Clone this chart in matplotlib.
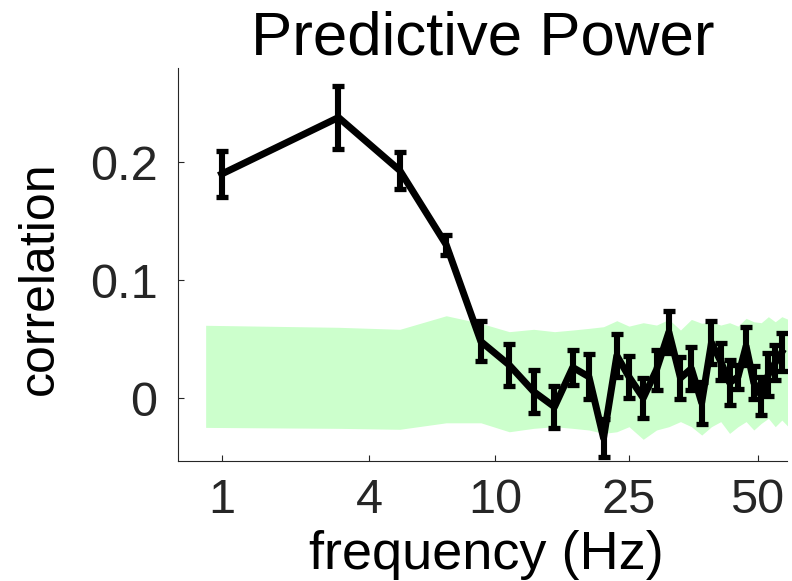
import numpy as np
import matplotlib
matplotlib.use("Agg")
import matplotlib.pyplot as plt

# ---- data ---------------------------------------------------------------
freq_hz = [1, 3, 5, 7, 9, 11, 13, 15, 17, 19, 21, 23, 25, 27, 29,
           31, 33, 35, 37, 39, 41, 43, 45, 47, 49, 51, 53, 55, 57]
corr = [0.190, 0.238, 0.193, 0.130, 0.048, 0.028, 0.0055, -0.0075, 0.026,
        0.018, -0.034, 0.036, 0.018, 0.000, 0.024, 0.056, 0.017, 0.025,
        -0.004, 0.047, 0.031, 0.013, 0.018, 0.044, 0.013, 0.002, 0.020,
        0.030, 0.039]
corr_sem = [0.0195, 0.027, 0.016, 0.0085, 0.017, 0.018, 0.018, 0.018, 0.015,
            0.019, 0.016, 0.018, 0.018, 0.017, 0.017, 0.018, 0.018, 0.018,
            0.018, 0.018, 0.016, 0.019, 0.010, 0.016, 0.014, 0.016, 0.018,
            0.015, 0.016]

# shuffled-control range
band_hz = [0.86, 1, 3, 5, 7, 9, 11, 13, 15, 17, 19, 21, 23, 25, 27, 29,
           31, 33, 35, 37, 39, 41, 43, 45, 47, 49, 51, 53, 55, 57, 59]
band_hi = [0.0617, 0.0615, 0.0600, 0.0583, 0.0698, 0.0634, 0.0563, 0.0583,
           0.0563, 0.0577, 0.0591, 0.0605, 0.0656, 0.0610, 0.0639, 0.0619,
           0.0667, 0.0577, 0.0667, 0.0634, 0.0647, 0.0619, 0.0639, 0.0610,
           0.0676, 0.0647, 0.0639, 0.0690, 0.0647, 0.0690, 0.0667]
band_lo = [-0.0249, -0.0250, -0.0257, -0.0265, -0.0210, -0.0210, -0.0286,
           -0.0257, -0.0243, -0.0257, -0.0271, -0.0300, -0.0286, -0.0243,
           -0.0350, -0.0271, -0.0243, -0.0200, -0.0243, -0.0314, -0.0243,
           -0.0200, -0.0300, -0.0243, -0.0200, -0.0271, -0.0215, -0.0172,
           -0.0243, -0.0187, -0.0243]

tick_hz = [1, 4, 10, 25, 50]
tick_labels = ["1", "4", "10", "25", "50"]
ytick_vals = [0, 0.1, 0.2]
ytick_labels = ["0", "0.1", "0.2"]

# ---- warped frequency axis ---------------------------------------------
# axis position of each labelled frequency; log-linear in between
_anchor_log = np.log(np.array(tick_hz, dtype=float))
_anchor_pos = np.array([0.0, 1.473, 2.735, 4.070, 5.355])
_s0 = (_anchor_pos[1] - _anchor_pos[0]) / (_anchor_log[1] - _anchor_log[0])
_s1 = (_anchor_pos[-1] - _anchor_pos[-2]) / (_anchor_log[-1] - _anchor_log[-2])


def warp(f):
    lf = np.log(np.clip(np.asarray(f, dtype=float), 1e-6, None))
    out = np.interp(lf, _anchor_log, _anchor_pos)
    lo = lf < _anchor_log[0]
    hi = lf > _anchor_log[-1]
    out = np.where(lo, _anchor_pos[0] + (lf - _anchor_log[0]) * _s0, out)
    out = np.where(hi, _anchor_pos[-1] + (lf - _anchor_log[-1]) * _s1, out)
    return out


def unwarp(p):
    p = np.asarray(p, dtype=float)
    lf = np.interp(p, _anchor_pos, _anchor_log)
    lf = np.where(p < _anchor_pos[0], _anchor_log[0] + (p - _anchor_pos[0]) / _s0, lf)
    lf = np.where(p > _anchor_pos[-1], _anchor_log[-1] + (p - _anchor_pos[-1]) / _s1, lf)
    return np.exp(lf)


# ---- figure ---------------------------------------------------------------
plt.rcParams["font.family"] = ["Liberation Sans", "DejaVu Sans"]
W, H = 792, 581
fig = plt.figure(figsize=(W / 100, H / 100), dpi=100)
ax = fig.add_axes([178.3 / W, 1 - 461 / H, (787 - 178.3) / W, (461 - 67.7) / H])
ax.set_xscale("function", functions=(warp, unwarp))

green = (0.80, 1.0, 0.80)
ax.fill_between(band_hz, band_lo, band_hi, color=green, lw=0, zorder=1)

ax.errorbar(freq_hz, corr, yerr=corr_sem, color="black", lw=5.0,
            elinewidth=4.4, capsize=4.6, capthick=3.8, zorder=3)

ax.set_xlim(0.665, 58.6)
ax.set_ylim(-0.0534, 0.2802)

ax.set_xticks(tick_hz)
ax.set_xticklabels(tick_labels)
ax.xaxis.set_minor_locator(matplotlib.ticker.NullLocator())
ax.set_yticks(ytick_vals)
ax.set_yticklabels(ytick_labels)

axis_gray = "#262626"
for side in ("top", "right"):
    ax.spines[side].set_visible(False)
for side in ("left", "bottom"):
    ax.spines[side].set_color(axis_gray)
    ax.spines[side].set_linewidth(0.8)

ax.tick_params(axis="both", direction="in", length=4, width=0.8,
               colors=axis_gray, labelsize=35)
ax.tick_params(axis="y", pad=15)
ax.tick_params(axis="x", pad=12)

ax.set_xlabel("frequency (Hz)", fontsize=39, color="black", labelpad=5)
ax.xaxis.set_label_coords(0.506, -0.175)
ax.set_ylabel("correlation", fontsize=36, color="black")
ax.yaxis.set_label_coords(-0.19, 0.465)
ax.set_title("Predictive Power", fontsize=44.5, color="black", pad=9)

fig.savefig("out.png", dpi=100, facecolor="white")
